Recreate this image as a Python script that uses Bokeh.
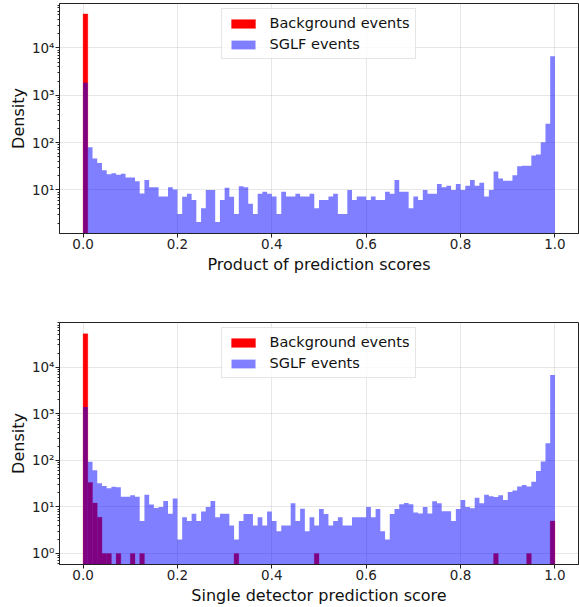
import numpy as np
from bokeh.plotting import figure
from bokeh.models import ColumnDataSource, Range1d, FixedTicker, PrintfTickFormatter
from bokeh.layouts import column
from bokeh.embed import file_html
from bokeh.resources import INLINE

# 100 bins on [0, 1]
bin_edges = np.linspace(0.0, 1.0, 101)

# ---- Top panel: product of prediction scores ----
top_sglf = [1850, 80, 46, 37, 26, 21.5, 22.6, 20.8, 22, 18.4,
            18.4, 15.2, 8.4, 16.2, 11.4, 11.4, 7.3, 7.3, 11.4, 10.2,
            3.1, 7.2, 8.3, 6.1, 2.1, 4.1, 10, 10, 2.1, 6.1,
            11.1, 7.2, 3.1, 12, 11.4, 5.1, 3.1, 8.3, 9.2, 8.3,
            7.3, 3.1, 9.2, 7.3, 7.3, 8.3, 7.3, 7.3, 8.3, 4.1,
            6.1, 6.1, 7.3, 8.3, 3.1, 3.1, 10, 6.1, 7.3, 7.3,
            6.1, 7.3, 6.1, 6.1, 9.2, 8.3, 16.2, 9.2, 9.2, 4.1,
            7.3, 6.1, 10, 8.3, 8.3, 13.3, 11.4, 12.3, 10, 13.3,
            10, 12.3, 16.2, 12.3, 14.2, 7.3, 10, 24.5, 17.5, 15.6,
            15.6, 20.5, 31.6, 32.6, 32.6, 53.6, 56, 102, 250, 6700]
top_bkg = [52500] + [0] * 99

# ---- Bottom panel: single detector prediction score ----
bot_sglf = [1400, 93, 61, 32, 28, 25, 27, 26.4, 16.5, 16.5,
            17.9, 16.5, 5, 18.2, 11.2, 9.5, 10, 13.4, 7.1, 15.2,
            2, 6, 5, 7.1, 5, 8, 10, 13.4, 6, 7.1,
            7.1, 4, 2, 5, 7, 7, 4, 6, 4, 8,
            5, 3, 4, 4, 12, 5, 9.1, 3, 6, 4,
            9, 7, 4, 5, 6, 4, 4, 6, 6, 6,
            10, 6, 9, 3, 2, 7, 9, 11.4, 12.1, 11.4,
            7.6, 7.2, 10, 7.2, 13.2, 12, 8.1, 8.1, 5, 9,
            14, 10, 9.4, 15.7, 12, 18.2, 17, 16.3, 17.9, 14,
            21, 22.4, 27.3, 29.5, 27.3, 34.7, 59, 94, 233, 6800]
bot_bkg = [52000, 33.6, 12.1, 6, 1, 1, 0, 1, 0, 0,
           1, 0, 1, 0, 0, 0, 0, 0, 0, 0,
           0, 0, 0, 0, 0, 0, 0, 0, 0, 0,
           0, 0, 1, 0, 0, 0, 0, 0, 0, 0,
           0, 0, 0, 0, 0, 0, 0, 0, 0, 1,
           0, 0, 0, 0, 0, 0, 0, 0, 0, 0,
           0, 0, 0, 0, 0, 0, 0, 0, 0, 0,
           0, 0, 0, 0, 0, 0, 0, 0, 0, 0,
           0, 0, 0, 0, 0, 0, 0, 1, 0, 0,
           0, 0, 0, 0, 1, 0, 0, 0, 0, 5]

x_ticks = [0.0, 0.2, 0.4, 0.6, 0.8, 1.0]
y_ticks = [1, 10, 100, 1000, 10000]
y_tick_labels = {1: "10⁰", 10: "10¹", 100: "10²", 1000: "10³", 10000: "10⁴"}
y_minor = [m * d for d in (0.1, 1, 10, 100, 1000, 10000) for m in range(2, 10)]

FONT = "DejaVu Sans"
FLOOR = 1e-3
INK = "#222222"


def bar_source(vals):
    lo, hi, tp = [], [], []
    for i, v in enumerate(vals):
        if v > 0:
            lo.append(bin_edges[i])
            hi.append(bin_edges[i + 1])
            tp.append(v)
    return ColumnDataSource(dict(left=lo, right=hi, top=tp, bottom=[FLOOR] * len(tp)))


def step_source(vals):
    ys = list(vals) + [vals[-1]]
    return ColumnDataSource(dict(x=list(bin_edges), y1=[FLOOR] * len(ys), y2=ys))


def make_panel(sglf, bkg, xlabel, yr, height, btop, bbottom):
    p = figure(width=579, height=height, x_range=Range1d(-0.05, 1.05),
               y_range=Range1d(*yr), y_axis_type="log",
               output_backend="svg", toolbar_location=None,
               min_border_left=59, min_border_right=1,
               min_border_top=btop, min_border_bottom=bbottom)
    p.background_fill_color = "white"
    p.border_fill_color = "white"
    p.outline_line_color = INK
    p.outline_line_width = 1

    p.quad(source=bar_source(bkg), left="left", right="right", top="top", bottom="bottom",
           fill_color="#ff0000", line_color="#ff0000", line_width=0.3,
           legend_label="Background events")
    p.varea_step(source=step_source(sglf), x="x", y1="y1", y2="y2", step_mode="after",
                 fill_color="#0000ff", fill_alpha=0.5, legend_label="SGLF events")

    p.xaxis.ticker = FixedTicker(ticks=x_ticks)
    p.xaxis.formatter = PrintfTickFormatter(format="%.1f")
    p.yaxis.ticker = FixedTicker(ticks=y_ticks, minor_ticks=y_minor)
    p.yaxis.major_label_overrides = y_tick_labels

    for ax in (p.xaxis[0], p.yaxis[0]):
        ax.axis_line_color = INK
        ax.major_tick_line_color = INK
        ax.major_tick_out = 4
        ax.major_tick_in = 0
        ax.major_label_text_font = FONT
        ax.major_label_text_font_size = "13.5px"
        ax.major_label_text_color = INK
        ax.major_label_standoff = 1
        ax.axis_label_text_font = FONT
        ax.axis_label_text_font_size = "16px"
        ax.axis_label_text_font_style = "normal"
        ax.axis_label_text_color = "#111111"
        ax.axis_label_standoff = 3
    p.yaxis.axis_label_standoff = 1
    p.xaxis.minor_tick_line_color = None
    p.yaxis.minor_tick_line_color = INK
    p.yaxis.minor_tick_out = 2
    p.yaxis.minor_tick_in = 0
    p.xaxis.axis_label = xlabel
    p.yaxis.axis_label = "Density"

    p.grid.grid_line_color = "#b0b0b0"
    p.grid.grid_line_alpha = 0.3

    lg = p.legend[0]
    lg.location = "top_center"
    lg.label_text_font = FONT
    lg.label_text_font_size = "14.5px"
    lg.label_text_color = "#111111"
    lg.glyph_width = 30
    lg.glyph_height = 11
    lg.label_standoff = 12
    lg.padding = 6
    lg.spacing = 5
    lg.margin = 5
    lg.border_line_color = "#cccccc"
    lg.background_fill_alpha = 0.8
    return p


p1 = make_panel(top_sglf, top_bkg, "Product of prediction scores",
                (1.2, 8.7e4), 300, 3, 67)
p2 = make_panel(bot_sglf, bot_bkg, "Single detector prediction score",
                (0.58, 9.1e4), 307, 22, 39)

layout = column(p1, p2, spacing=0)
open("out.html", "w").write(file_html(layout, INLINE))
